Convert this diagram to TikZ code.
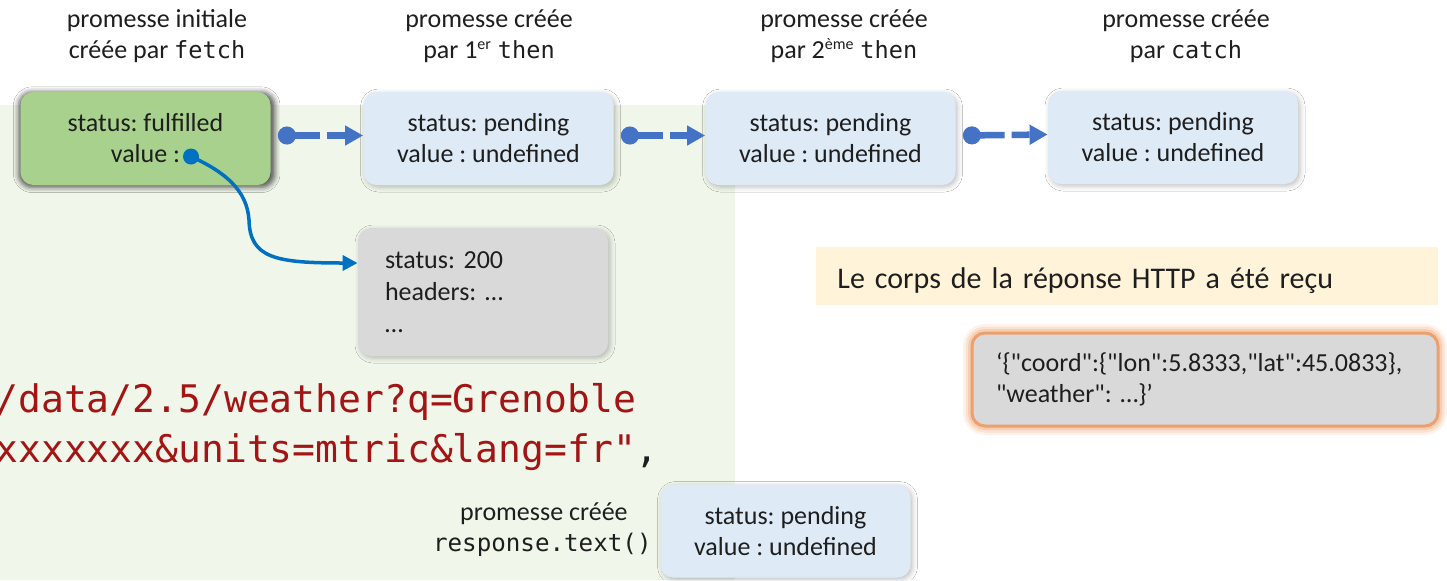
\documentclass[tikz,border=0pt]{standalone}
\usepackage{fontspec}
\setmainfont{Carlito}
\setmonofont{DejaVu Sans Mono}
% plain Carlito without TeX quote mapping, for JSON text
\newfontfamily\rawfont{Carlito}
\usetikzlibrary{arrows.meta,shadows.blur}

\definecolor{bgGreen}{HTML}{F0F6EA}
\definecolor{okGreen}{HTML}{A9D18E}
\definecolor{pendBlue}{HTML}{DEEBF7}
\definecolor{objGray}{HTML}{D9D9D9}
\definecolor{noteYellow}{HTML}{FFF4D9}
\definecolor{chainBlue}{HTML}{4472C4}
\definecolor{refBlue}{HTML}{0070C0}
\definecolor{codeRed}{HTML}{A31515}
\definecolor{glowOrange}{HTML}{F4B183}
\definecolor{edgeOrange}{HTML}{EBA06E}
\definecolor{ink}{HTML}{1E1E1E}

% keyword in monospace, sized to sit with the 13pt text
\newcommand\kwd[1]{{\fontsize{11.8}{15.5}\selectfont\ttfamily #1}}

\begin{document}
\frenchspacing
\begin{tikzpicture}[x=0.5pt,y=-0.5pt,
  every node/.style={text=ink, inner sep=0pt},
  txt/.style={font=\fontsize{13}{15.5}\selectfont, align=center},
  promise/.style={txt, rounded corners=6.5pt, minimum width=125pt, minimum height=46.5pt},
  pending/.style={promise, fill=pendBlue,
    blur shadow={shadow xshift=1pt, shadow yshift=-1pt, shadow opacity=25, shadow blur radius=2.5pt}},
  fulfilled/.style={promise, fill=okGreen,
    blur shadow={shadow xshift=0.6pt, shadow yshift=-0.6pt, shadow scale=1.025, shadow opacity=65, shadow blur radius=2.5pt}},
  objbox/.style={rounded corners=6.5pt, fill=objGray, align=left},
  thenlink/.style={draw=chainBlue, line width=3.25pt,
    dash pattern=on 13.5pt off 3.5pt on 9pt off 3.5pt on 20pt,
    {Circle[length=9pt]}-{Triangle[length=9pt,width=9.5pt]}},
  reflink/.style={draw=refBlue, line width=1.75pt, -{Triangle[length=7.5pt,width=7.5pt]}},
  code/.style={font=\fontsize{19}{22}\selectfont\ttfamily, text=codeRed, anchor=base west}
]
\useasboundingbox (0,0) rectangle (1447,580);
\fill[white] (0,0) rectangle (1447,580);

% pale green zone behind the fetch call
\fill[bgGreen] (0,105) rectangle (735,580);

% captions above the chain
\node[txt] (l1) at (157,36) {promesse initiale\\créée par \kwd{fetch}};
\node[txt] (l2) at (489,36) {promesse créée\\par 1\textsuperscript{\footnotesize er} \kwd{then}};
\node[txt] (l3) at (844,36) {promesse créée\\par 2\textsuperscript{\footnotesize ème} \kwd{then}};
\node[txt] (l4) at (1186,36) {promesse créée\\par \kwd{catch}};

% promise chain
\node[fulfilled] (b1) at (145.5,138.5) {status: fulfilled\\value :};
\node[pending] (b2) at (488.5,138.5) {status: pending\\value : undefined};
\node[pending] (b3) at (830.5,138.5) {status: pending\\value : undefined};
\node[pending] (b4) at (1173,137.5) {status: pending\\value : undefined};

\draw[thenlink] ([xshift=3.5pt,yshift=1.5pt]b1.east) -- ([yshift=1.5pt]b2.west);
\draw[thenlink] ([xshift=3.5pt,yshift=1.5pt]b2.east) -- ([yshift=1.5pt]b3.west);
\draw[thenlink] ([xshift=3.5pt,yshift=1.5pt]b3.east) -- ([yshift=1.5pt]b4.west);

% response object
\node[objbox, text width=98pt, inner xsep=13.5pt, minimum height=64pt,
  font=\fontsize{13}{16}\selectfont,
  blur shadow={shadow xshift=1pt, shadow yshift=-1pt, shadow opacity=25, shadow blur radius=2.5pt}]
  (g1) at (483,292) {status: 200\\headers: …\\…};

\coordinate (vdot) at (191,156.5);
\fill[refBlue] (vdot) circle[radius=4pt];
\draw[reflink] (vdot) .. controls (225,172) and (247,190) .. (249,220)
  .. controls (250,258) and (275,263) .. ([yshift=14.5pt]g1.west);

% fetch URL
\node[code] (c1) at (-5,412) {/data/2.5/weather?q=Grenoble};
\node[code] (c2) at (-5,462) {xxxxxxx\&units=mtric\&lang=fr"\textcolor{ink}{,}};

% promise returned by response.text()
\node[txt, anchor=base east] (l5a) at (628,520) {promesse créée};
\node[anchor=base east, font=\fontsize{12.1}{15.5}\selectfont\ttfamily] (l5b) at (652,551.7) {response.text()};
\node[pending] (b5) at (785.5,531) {status: pending\\value : undefined};

% note and body text
\node[fill=noteYellow, anchor=north west, minimum width=311pt, minimum height=29pt,
  text width=290pt, inner xsep=10.5pt, align=left, text height=14pt, text depth=2pt,
  font=\fontsize{15}{18}\selectfont] (note) at (816,247)
  {Le corps de la réponse HTTP a été reçu};

\node[objbox, text width=209pt, inner xsep=12pt, minimum height=46.5pt,
  font=\rawfont\fontsize{13}{15.5}\selectfont, draw=edgeOrange, line width=1.5pt,
  preaction={draw=glowOrange, line width=9pt, draw opacity=0.15},
  preaction={draw=glowOrange, line width=6.5pt, draw opacity=0.25},
  preaction={draw=glowOrange, line width=4pt, draw opacity=0.4}]
  (j) at (1205,379.5) {‘\{"coord":\{"lon":5.8333,"lat":45.0833\},\\"weather": …\}’};
\end{tikzpicture}
\end{document}
